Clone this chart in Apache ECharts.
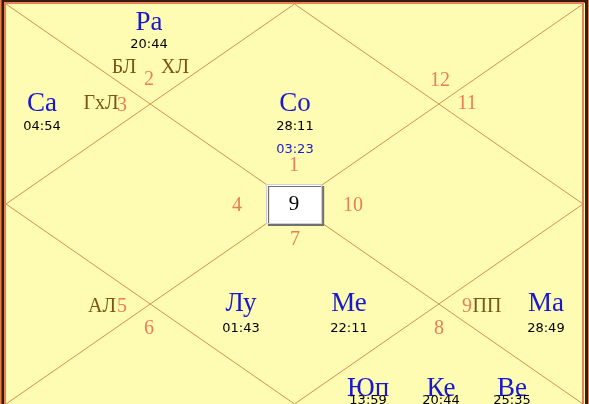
<!DOCTYPE html>
<html><head><meta charset="utf-8">
<script src="https://cdn.jsdelivr.net/npm/echarts@6/dist/echarts.min.js"></script>
<style>html,body{margin:0;padding:0;background:#fefbb2;}#c{width:589px;height:404px;}</style>
</head><body><div id="c"></div>
<script>
// Planets (blue names) with their degrees, placed at chart-unit coordinates (0..4 square)
const planetNames = ['Ра','Са','Со','Лу','Ме','Ма','Юп','Ке','Ве'];
const planetDegrees = ['20:44','04:54','28:11','01:43','22:11','28:49','13:59','20:44','25:35'];
const planetX = [0.991,0.25,2.003,1.629,2.378,3.743,2.51,3.016,3.508];
const planetY = [0.185,1.0,1.0,3.0,3.0,3.0,3.845,3.845,3.845];
const degreeY = [0.41,1.224,1.224,3.25,3.25,3.25,3.965,3.965,3.965];
// Ascendant degree
const ascDegree = ['03:23'];
const ascX = [2.003];
const ascY = [1.453];
// House / sign numbers
const houseNums = ['1','2','3','4','5','6','7','8','9','10','11','12'];
const houseX = [1.997,0.991,0.804,1.601,0.804,0.991,2.003,3.002,3.196,2.406,3.196,3.009];
const houseY = [1.622,0.756,1.015,2.02,3.025,3.244,2.358,3.244,3.025,2.02,0.995,0.766];
// Special points (brown)
const specialNames = ['БЛ','ХЛ','ГхЛ','АЛ','ПП'];
const specialX = [0.818,1.172,0.659,0.666,3.334];
const specialY = [0.637,0.637,0.995,3.025,3.025];
// Centre box
const centreLabel = ['9'];
const centreX = [1.997];
const centreY = [2.0];
// Chart lines (diamond + diagonals), chart units
const lineSegments = [
  [[0,0],[4,4]], [[4,0],[0,4]],
  [[2,0],[4,2]], [[4,2],[2,4]], [[2,4],[0,2]], [[0,2],[2,0]]
];

const pts = (names, xs, ys) => names.map((n,i)=>({name:n, value:[xs[i], ys[i]]}));
const textSeries = (data, font, size, color) => ({
  type:'scatter', data, symbolSize:1, silent:true, z:5,
  itemStyle:{color:'rgba(0,0,0,0)', opacity:1},
  label:{show:true, position:'inside', formatter:'{b}', fontFamily:font, fontSize:size, color, opacity:1, textBorderWidth:0}
});

const chart = echarts.init(document.getElementById('c'), null, {renderer:'canvas'});
const serif = '"Liberation Serif", "Times New Roman", serif';
const sans = '"DejaVu Sans", Verdana, sans-serif';
chart.setOption({
  animation:false,
  backgroundColor:'#fefbb2',
  grid:{left:6, top:4, width:577, height:402},
  xAxis:{type:'value', min:0, max:4, show:false},
  yAxis:{type:'value', min:0, max:4, inverse:true, show:false},
  graphic:[
    {type:'rect', silent:true, z:100, shape:{x:1, y:-10, width:587, height:500}, style:{fill:null, stroke:'#e0804a', lineWidth:2}},
    {type:'rect', silent:true, z:100, shape:{x:3, y:1.2, width:583.5, height:500}, style:{fill:null, stroke:'#3a1a0c', lineWidth:3}},
    {type:'rect', silent:true, z:100, shape:{x:5, y:3, width:578, height:500}, style:{fill:null, stroke:'#e4835a', lineWidth:2}}
  ],
  series:[
    {type:'lines', coordinateSystem:'cartesian2d', silent:true, z:1,
     lineStyle:{color:'#d8904f', width:1, opacity:1},
     data: lineSegments.map(c=>({coords:c}))},
    {type:'scatter', silent:true, z:3, symbol:'rect', symbolSize:[55,39],
     data: pts(centreLabel, centreX, centreY),
     itemStyle:{color:'#ffffff', opacity:1, borderColor:'#d0d0d0', borderWidth:1, shadowColor:'#707070', shadowOffsetX:2, shadowOffsetY:2, shadowBlur:0},
     label:{show:true, position:'inside', formatter:'{b}', fontFamily:serif, fontSize:21, color:'#000', textBorderWidth:0}},
    textSeries(pts(planetNames, planetX, planetY), serif, 27, '#1818d0'),
    textSeries(pts(planetDegrees, planetX, degreeY), sans, 13, '#000'),
    textSeries(pts(ascDegree, ascX, ascY), sans, 13, '#1c1cc8'),
    textSeries(pts(houseNums, houseX, houseY), serif, 20, '#ea7f55'),
    textSeries(pts(specialNames, specialX, specialY), serif, 20, '#7a5418')
  ]
});
</script></body></html>
